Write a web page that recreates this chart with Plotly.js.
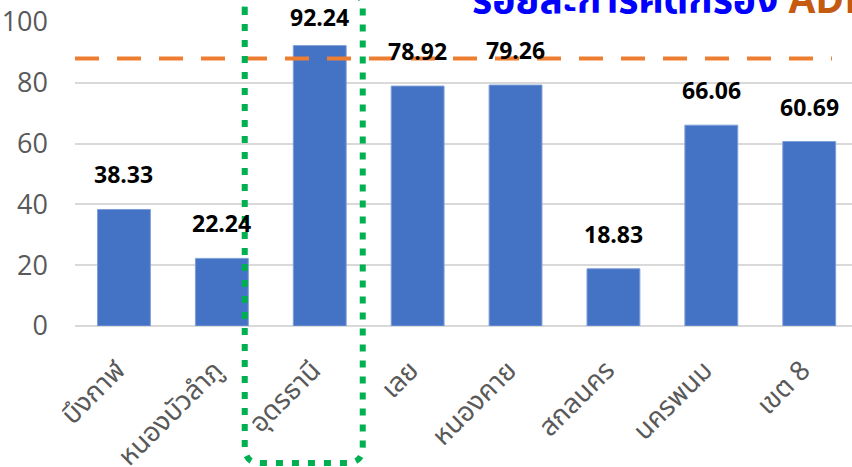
<!DOCTYPE html>
<html>
<head>
<meta charset="utf-8">
<script src="https://cdn.plot.ly/plotly-3.0.1.min.js"></script>
<style>html,body{margin:0;padding:0;background:#fff;}#chart{width:852px;height:467px;}</style>
</head>
<body>
<div id="chart"></div>
<script>
// ---- data ----
const categories = ["บึงกาฬ", "หนองบัวลำภู", "อุดรธานี", "เลย", "หนองคาย", "สกลนคร", "นครพนม", "เขต 8"];
const values = [38.33, 22.24, 92.24, 78.92, 79.26, 18.83, 66.06, 60.69];
const targetValue = 88;
const highlightCategory = "อุดรธานี";
const titleMain = "ร้อยละการคัดกรอง";
const titleTail = "ADL";
const yTicks = [0, 20, 40, 60, 80, 100];

// ---- layout helpers ----
const W = 852, H = 467;
const margin = {l: 75, r: 0, t: 22, b: 141};
const xRange = [-0.5, 7.437];
const yRange = [0, 100];
const plotW = W - margin.l - margin.r;
const plotH = H - margin.t - margin.b;
const pxToPaperX = px => (px - margin.l) / plotW;
const pxToPaperY = py => (H - margin.b - py) / plotH;
const idxToPaperX = i => (i - xRange[0]) / (xRange[1] - xRange[0]);
const valToPx = v => margin.t + (yRange[1] - v) / (yRange[1] - yRange[0]) * plotH;

// highlight box around the chosen category (paper coords)
const hi = categories.indexOf(highlightCategory);
const cx = idxToPaperX(hi);
const x0 = cx - 75 / plotW, x1 = cx + 43 / plotW;
const y0 = pxToPaperY(463), y1 = pxToPaperY(-8);
const rx = 16 / plotW, ry = 16 / plotH;
const boxPath = `M ${x0} ${y1 - ry} L ${x0} ${y0 + ry} Q ${x0} ${y0} ${x0 + rx} ${y0} ` +
  `L ${x1 - rx} ${y0} Q ${x1} ${y0} ${x1} ${y0 + ry} L ${x1} ${y1 - ry} ` +
  `Q ${x1} ${y1} ${x1 - rx} ${y1} L ${x0 + rx} ${y1} Q ${x0} ${y1} ${x0} ${y1 - ry} Z`;

const thaiFont = "'Noto Sans Thai', 'Noto Sans Thai UI', 'Open Sans', 'Noto Sans', sans-serif";
const numFont = "'Open Sans', 'Noto Sans', sans-serif";

const trace = {
  type: 'bar',
  x: categories,
  y: values,
  marker: {color: '#4472C4', line: {color: '#7F9FD8', width: 1}},
  hoverinfo: 'x+y'
};

// data labels sit ~35px above each bar, kept inside the figure
const labelAnnots = categories.map((c, i) => {
  const topPx = valToPx(values[i]);
  const shift = Math.min(35, topPx - 17);
  return {
    x: c, y: values[i], xref: 'x', yref: 'y',
    text: values[i].toFixed(2), showarrow: false,
    yshift: shift, yanchor: 'middle',
    font: {family: numFont, size: 23, color: '#000000', weight: 'bold'}
  };
});

const titleAnnot = {
  xref: 'paper', yref: 'paper', x: pxToPaperX(470), y: pxToPaperY(2),
  xanchor: 'left', yanchor: 'middle', showarrow: false,
  text: `<b><span style="color:#0000FF">${titleMain}</span> <span style="color:#C55A11">${titleTail}</span></b>`,
  font: {family: thaiFont, size: 39, color: '#0000FF'}
};

const layout = {
  width: W, height: H,
  margin: margin,
  paper_bgcolor: '#ffffff', plot_bgcolor: '#ffffff',
  showlegend: false,
  bargap: 0.46,
  xaxis: {
    type: 'category', range: xRange, tickangle: -45,
    tickfont: {family: thaiFont, size: 27, color: '#595959'},
    showgrid: false, showline: false, zeroline: false, ticks: '',
    ticklabelstandoff: 22, ticklabelshift: -7, automargin: false
  },
  yaxis: {
    range: yRange, tickvals: yTicks, ticktext: yTicks.map(String),
    tickfont: {family: numFont, size: 27, color: '#595959'},
    gridcolor: '#D9D9D9', gridwidth: 2,
    zeroline: true, zerolinecolor: '#D9D9D9', zerolinewidth: 2,
    showline: false, ticks: '', ticklabelstandoff: 26, automargin: false
  },
  shapes: [
    {type: 'line', xref: 'paper', yref: 'y', x0: 0, x1: pxToPaperX(832), y0: targetValue, y1: targetValue,
     line: {color: '#ED7D31', width: 4, dash: '24px,18px'}, layer: 'above'},
    {type: 'path', xref: 'paper', yref: 'paper', path: boxPath,
     line: {color: '#00B050', width: 6, dash: '7px,9px'}, fillcolor: 'rgba(0,0,0,0)', layer: 'above'}
  ],
  annotations: labelAnnots.concat([titleAnnot])
};

Plotly.newPlot('chart', [trace], layout, {displayModeBar: false, staticPlot: true});
</script>
</body>
</html>
